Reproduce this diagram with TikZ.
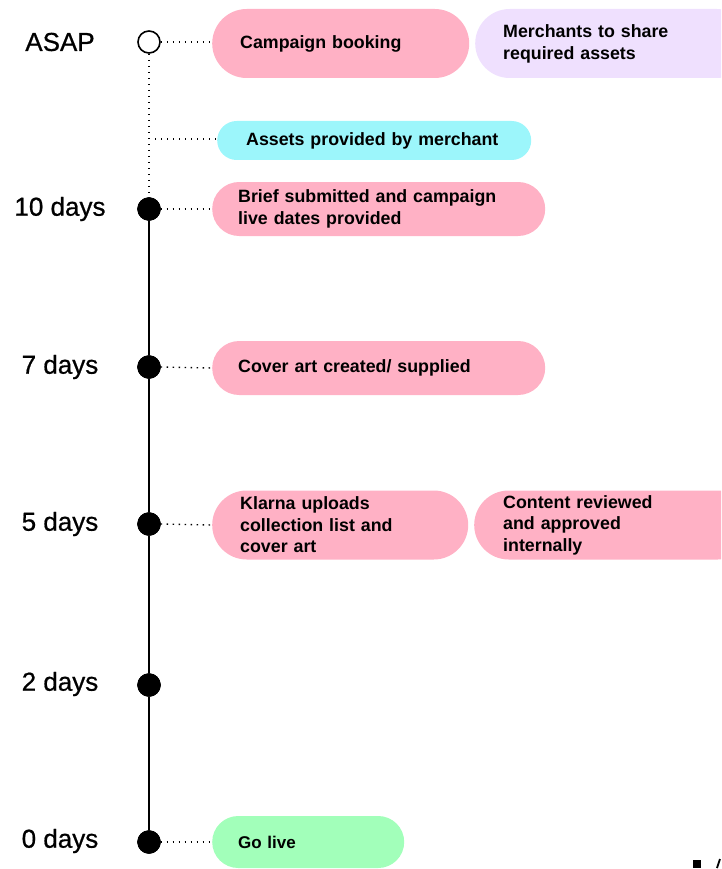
\documentclass[tikz,border=0pt]{standalone}
\usepackage{fontspec}
\setmainfont{Liberation Sans}
\newfontfamily\whenfont[FakeBold=0.7]{Liberation Sans}
\definecolor{pinkbox}{HTML}{FFB1C5}
\definecolor{lilacbox}{HTML}{EFE0FE}
\definecolor{cyanbox}{HTML}{9CF6FB}
\definecolor{greenbox}{HTML}{A2FFBA}
\tikzset{
  pill/.style={anchor=west, align=left, inner xsep=27pt, inner ysep=0pt,
    font=\fontsize{17.8}{22}\selectfont\bfseries, text=black},
  when/.style={font=\whenfont\fontsize{26}{30}\selectfont, anchor=center},
  milestone/.style={circle, fill=black, draw=black, minimum size=23pt, inner sep=0pt},
  pending/.style={circle, fill=white, draw=black, line width=1.6pt, minimum size=22pt, inner sep=0pt},
  dots/.style={line width=1.4pt, dash pattern=on 1.4pt off 4.6pt},
  axis/.style={line width=1.6pt},
}
\begin{document}
\begin{tikzpicture}[x=1pt,y=-1pt]
\useasboundingbox (0,0) rectangle (721,869);
\clip (0,0) rectangle (721,869);

% time labels
\node[when] (tasap) at (60,42) {ASAP};
\node[when] (t10) at (60,209) {10 days};
\node[when] (t7) at (60,367) {7 days};
\node[when] (t5) at (60,524) {5 days};
\node[when] (t2) at (60,684) {2 days};
\node[when] (t0) at (60,841) {0 days};

% timeline markers
\node[pending] (masap) at (149,42) {};
\node[milestone] (m10) at (149,209) {};
\node[milestone] (m7) at (149,367) {};
\node[milestone] (m5) at (149,524) {};
\node[milestone] (m2) at (149,685) {};
\node[milestone] (m0) at (149,842) {};

% spine of the timeline
\draw[dots] (masap.south) -- (m10.north);
\draw[axis] (m10) -- (m7) -- (m5) -- (m2) -- (m0);
\node[milestone] at (m10) {};
\node[milestone] at (m7) {};
\node[milestone] at (m5) {};
\node[milestone] at (m2) {};
\node[milestone] at (m0) {};

% task pills
\node[pill, fill=pinkbox, rounded corners=34.5pt, minimum height=69pt, text width=201pt, inner xsep=28pt] (booking) at (212,43.5) {Campaign booking};
\node[pill, fill=lilacbox, rounded corners=34.5pt, minimum height=69pt, text width=220pt, inner xsep=28pt] (share) at (475,43.5) {Merchants to share\\required assets};
\node[pill, fill=cyanbox, rounded corners=19.5pt, minimum height=39pt, text width=256pt, inner xsep=29pt] (assets) at (217,140.5) {Assets provided by merchant};
\node[pill, fill=pinkbox, rounded corners=27pt, minimum height=54pt, text width=281pt, inner xsep=26pt] (brief) at (212,209) {Brief submitted and campaign\\live dates provided};
\node[pill, fill=pinkbox, rounded corners=27pt, minimum height=54pt, text width=281pt, inner xsep=26pt] (cover) at (212,368) {Cover art created/ supplied};
\node[pill, fill=pinkbox, rounded corners=34.5pt, minimum height=69pt, text width=200pt, inner xsep=28pt, font=\fontsize{17.8}{21.5}\selectfont\bfseries] (upload) at (212,525) {Klarna uploads\\collection list and\\cover art};
\node[pill, fill=pinkbox, rounded corners=34.5pt, minimum height=69pt, text width=220pt, inner xsep=29pt, font=\fontsize{17.8}{21.5}\selectfont\bfseries] (review) at (474,525) {Content reviewed\\and approved\\internally};
\node[pill, fill=greenbox, rounded corners=26pt, minimum height=52pt, text width=140pt, inner xsep=26pt, font=\fontsize{17}{20}\selectfont\bfseries] (golive) at (212,842) {Go live};

% dotted leaders from markers to pills
\coordinate (branch) at (150,139);
\draw[dots] (masap.east) -- (booking.west |- masap.east);
\draw[dots] ([xshift=5pt]branch) -- (assets.west |- branch);
\draw[dots] (m10.east) -- (brief.west);
\draw[dots] (m7.east) -- (cover.west);
\draw[dots] (m5.east) -- (upload.west);
\draw[dots] (m0.east) -- (golive.west);

% corner mark, cut by the page edge
\node[fill=black, minimum size=8pt, inner sep=0pt] (cornersq) at (697,863.5) {};
\coordinate (slashlo) at (717,868);
\coordinate (slashhi) at (720,859);
\draw[line width=1.8pt] (slashlo) -- (slashhi);
\end{tikzpicture}
\end{document}
